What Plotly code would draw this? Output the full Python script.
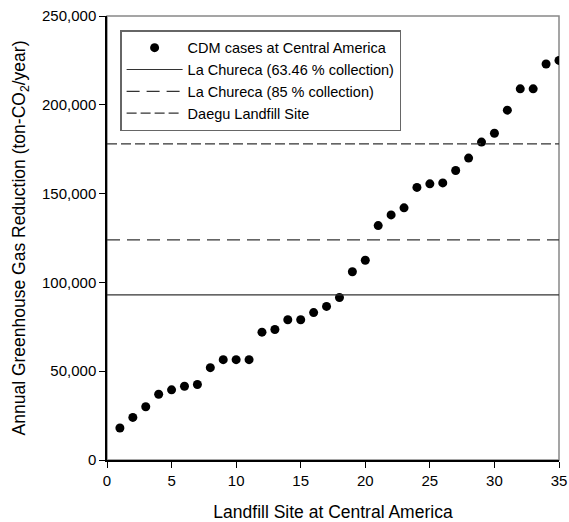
import plotly.graph_objects as go

site = list(range(1, 36))
reduction = [18000, 24000, 30000, 37000, 39500, 41500, 42500, 52000, 56500, 56500,
             56500, 72000, 73500, 79000, 79000, 83000, 86500, 91500, 106000, 112500,
             132000, 138000, 142000, 153500, 155500, 156000, 163000, 170000, 179000, 184000,
             197000, 209000, 209000, 223000, 225000]
x_span = [0, 35]
chureca_6346 = 93000
chureca_85 = 124000
daegu = 178000
x_ticks = [0, 5, 10, 15, 20, 25, 30, 35]
y_ticks = [0, 50000, 100000, 150000, 200000, 250000]
y_ticklabels = ["0", "50,000", "100,000", "150,000", "200,000", "250,000"]

fig = go.Figure()
fig.add_trace(go.Scatter(x=site, y=reduction, mode="markers", name="CDM cases at Central America",
                         marker=dict(color="black", size=9)))
fig.add_trace(go.Scatter(x=x_span, y=[chureca_6346] * 2, mode="lines", name="La Chureca (63.46 % collection)",
                         line=dict(color="#333", width=1.2)))
fig.add_trace(go.Scatter(x=x_span, y=[chureca_85] * 2, mode="lines", name="La Chureca (85 % collection)",
                         line=dict(color="#333", width=1.2, dash="13px,7px")))
fig.add_trace(go.Scatter(x=x_span, y=[daegu] * 2, mode="lines", name="Daegu Landfill Site",
                         line=dict(color="#333", width=1.2, dash="10px,4px")))

fig.add_shape(type="rect", xref="paper", yref="paper", x0=0, x1=1, y0=0, y1=1,
              line=dict(color="#888", width=1.5), layer="below")

fig.update_layout(
    width=569, height=522,
    margin=dict(l=107, r=10, t=16, b=62, autoexpand=False),
    plot_bgcolor="white", paper_bgcolor="white",
    font=dict(family="Liberation Sans, Arial, sans-serif", size=15, color="black"),
    showlegend=True,
    legend=dict(x=0.029, y=0.968, xanchor="left", yanchor="top",
                bordercolor="#666", borderwidth=1.5, bgcolor="white",
                font=dict(size=14.5), tracegroupgap=0, itemwidth=56),
    xaxis=dict(range=[0, 35], tickvals=x_ticks, automargin=False,
               showline=True, linecolor="black", linewidth=1.5, ticks="outside",
               ticklen=6, tickcolor="black", showgrid=False, zeroline=False,
               tickfont=dict(size=15),
               title=dict(text="Landfill Site at Central America", font=dict(size=17.5), standoff=18)),
    yaxis=dict(range=[0, 250000], tickvals=y_ticks, ticktext=y_ticklabels, automargin=False,
               showline=True, linecolor="black", linewidth=1.5, ticks="outside",
               ticklen=6, tickcolor="black", showgrid=False, zeroline=False,
               tickfont=dict(size=15),
               title=dict(text="Annual Greenhouse Gas Reduction (ton-CO<sub>2</sub>/year)",
                          font=dict(size=17.5), standoff=12)),
)

fig.write_html("out.html", config={"displayModeBar": False},
               post_script="document.body.style.margin='0';")
